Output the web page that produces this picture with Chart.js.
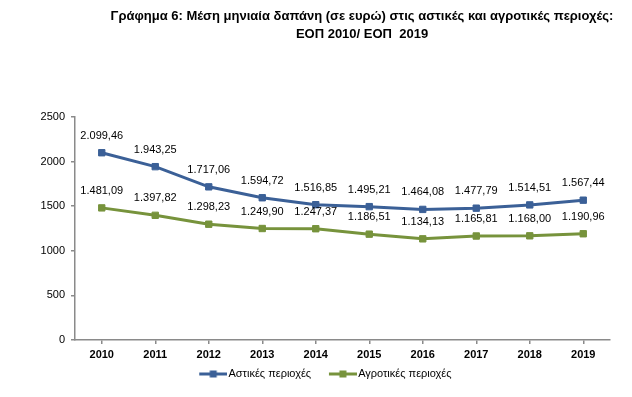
<!DOCTYPE html>
<html>
<head>
<meta charset="utf-8">
<script src="https://cdn.jsdelivr.net/npm/chart.js@4/dist/chart.umd.min.js"></script>
<style>
  html, body { margin: 0; padding: 0; background: #fff; }
  #wrap { position: relative; width: 632px; height: 397px; }
  #title {
    position: absolute; left: 92px; top: 7px; width: 540px;
    text-align: center; font: bold 13px "Liberation Sans", Arial, sans-serif;
    line-height: 18px; color: #000;
  }
  canvas { position: absolute; left: 0; top: 0; }
</style>
</head>
<body>
<div id="wrap">
  <canvas id="expChart" width="632" height="397"></canvas>
  <div id="title">Γράφημα 6: Μέση μηνιαία δαπάνη (σε ευρώ) στις αστικές και αγροτικές περιοχές:<br>ΕΟΠ 2010/ ΕΟΠ &nbsp;2019</div>
</div>
<script>
const years = ['2010', '2011', '2012', '2013', '2014', '2015', '2016', '2017', '2018', '2019'];
const urban = [2099.46, 1943.25, 1717.06, 1594.72, 1516.85, 1495.21, 1464.08, 1477.79, 1514.51, 1567.44];
const rural = [1481.09, 1397.82, 1298.23, 1249.90, 1247.37, 1186.51, 1134.13, 1165.81, 1168.00, 1190.96];
const seriesNames = ['Αστικές περιοχές', 'Αγροτικές περιοχές'];
const yTicks = [0, 500, 1000, 1500, 2000, 2500];

const blue = '#3b6097';
const green = '#77933c';
const axisColor = '#8a8a8a';
const font = '"Liberation Sans", Arial, sans-serif';

// greek number format: 2.099,46
function fmt(v) {
    const parts = v.toFixed(2).split('.');
    const intPart = parts[0].replace(/\B(?=(\d{3})+(?!\d))/g, '.');
    return intPart + ',' + parts[1];
}

// legend swatch: line with a square in the middle (line sits at the right end so it meets the text)
function swatch(color) {
    const c = document.createElement('canvas');
    c.width = 44;
    c.height = 8;
    const ctx = c.getContext('2d');
    ctx.strokeStyle = color;
    ctx.lineWidth = 3;
    ctx.beginPath();
    ctx.moveTo(16, 4);
    ctx.lineTo(44, 4);
    ctx.stroke();
    ctx.fillStyle = color;
    ctx.fillRect(26.5, 0.5, 7, 7);
    return c;
}

// value labels above each point
const valueLabels = {
    id: 'valueLabels',
    afterDatasetsDraw(chart) {
        const ctx = chart.ctx;
        ctx.save();
        ctx.font = '11px ' + font;
        ctx.fillStyle = '#000';
        ctx.textAlign = 'center';
        ctx.textBaseline = 'middle';
        chart.data.datasets.forEach((ds, i) => {
            chart.getDatasetMeta(i).data.forEach((pt, j) => {
                ctx.fillText(fmt(ds.data[j]), pt.x, pt.y - 17);
            });
        });
        ctx.restore();
    }
};

new Chart(document.getElementById('expChart'), {
    type: 'line',
    data: {
        labels: years,
        datasets: [{
            label: seriesNames[0],
            data: urban,
            borderColor: blue,
            backgroundColor: blue,
            borderWidth: 3,
            pointStyle: 'rect',
            pointRadius: 4.5,
            pointBorderWidth: 1,
            tension: 0
        }, {
            label: seriesNames[1],
            data: rural,
            borderColor: green,
            backgroundColor: green,
            borderWidth: 3,
            pointStyle: 'rect',
            pointRadius: 4.5,
            pointBorderWidth: 1,
            tension: 0
        }]
    },
    options: {
        responsive: false,
        animation: false,
        layout: { padding: { top: 117, right: 22, left: 29, bottom: 7.5 } },
        plugins: {
            title: { display: false },
            tooltip: { enabled: false },
            legend: {
                position: 'bottom',
                labels: {
                    usePointStyle: true,
                    pointStyleWidth: 35.5,
                    padding: 6,
                    color: '#000',
                    font: { family: font, size: 11 },
                    generateLabels: (chart) => chart.data.datasets.map((ds, i) => ({
                        text: ds.label,
                        pointStyle: swatch(ds.borderColor),
                        fillStyle: ds.borderColor,
                        strokeStyle: ds.borderColor,
                        lineWidth: 0,
                        hidden: false,
                        datasetIndex: i
                    }))
                }
            }
        },
        scales: {
            x: {
                offset: true,
                afterFit: (scale) => { scale.height = 22.5; },
                grid: { drawOnChartArea: false, drawTicks: true, tickLength: 4, color: axisColor, lineWidth: 1.5 },
                border: { display: true, color: axisColor, width: 1.5 },
                ticks: { color: '#000', padding: 4, font: { family: font, size: 11, weight: 'bold' }, maxRotation: 0 }
            },
            y: {
                min: 0,
                max: 2500,
                afterBuildTicks: (scale) => { scale.ticks = yTicks.map(v => ({ value: v })); },
                afterFit: (scale) => { scale.width = 46; },
                grid: { drawOnChartArea: false, drawTicks: true, tickLength: 4, color: axisColor, lineWidth: 1.5 },
                border: { display: true, color: axisColor, width: 1.5 },
                ticks: { color: '#000', padding: 6, font: { family: font, size: 11 }, callback: (v) => String(v) }
            }
        }
    },
    plugins: [valueLabels]
});
</script>
</body>
</html>
